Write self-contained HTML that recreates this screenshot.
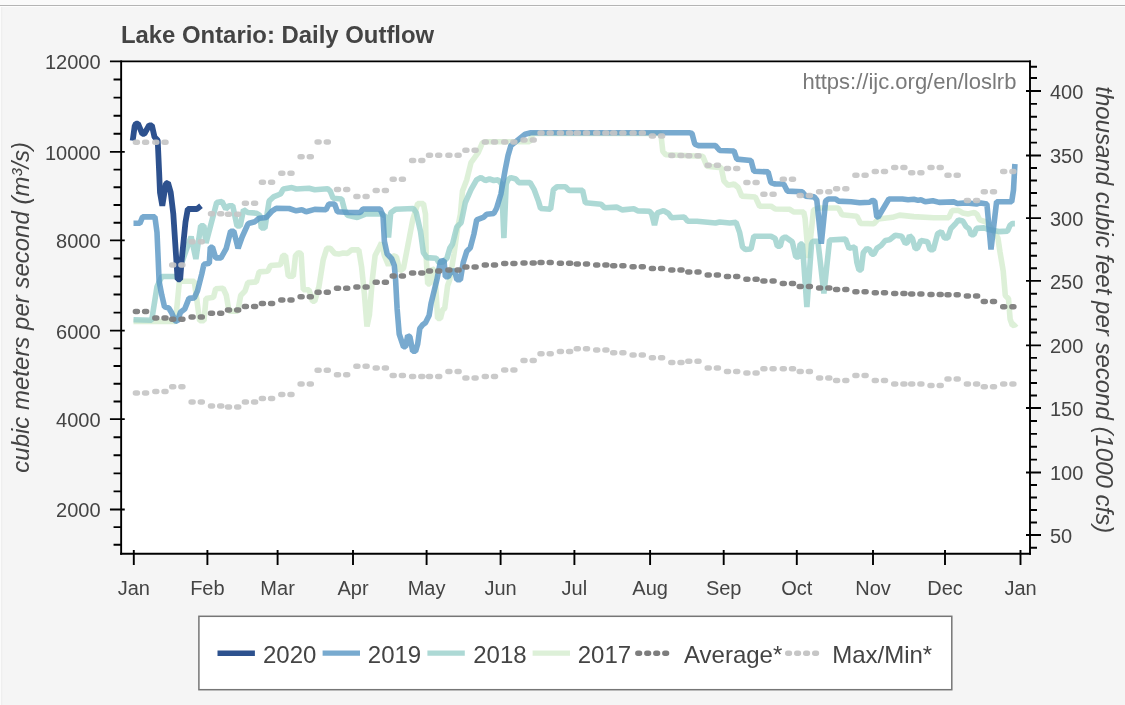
<!DOCTYPE html>
<html lang="en"><head><meta charset="utf-8"><title>Lake Ontario: Daily Outflow</title>
<style>html,body{margin:0;padding:0;background:#f5f5f5;}body{width:1125px;height:705px;overflow:hidden;}svg{display:block;}text{font-family:'Liberation Sans', sans-serif;}</style></head><body>
<svg width="1125" height="705" viewBox="0 0 1125 705">
<rect x="0" y="0" width="1125" height="705" fill="#f5f5f5"/>
<rect x="0" y="0" width="1125" height="5" fill="#fafafa"/>
<rect x="0" y="5" width="1125" height="1" fill="#b4b4b4"/>
<rect x="0" y="6" width="1125" height="1" fill="#fdfdfd"/>
<rect x="0" y="7" width="1" height="698" fill="#fbfbfb"/>
<rect x="1" y="7" width="1" height="698" fill="#efefef"/>
<rect x="2" y="7" width="1" height="698" fill="#f3f3f3"/>
<rect x="121.15" y="61.40" width="908.85" height="492.35" fill="#ffffff"/>
<text x="120.9" y="43.1" font-size="23.9" font-weight="bold" fill="#444444">Lake Ontario: Daily Outflow</text>
<text x="1016.4" y="88.7" font-size="22" text-anchor="end" fill="#7a7a7a">https://ijc.org/en/loslrb</text>
<defs><clipPath id="plotclip"><rect x="121.15" y="61.40" width="908.85" height="492.35"/></clipPath></defs>
<g clip-path="url(#plotclip)" fill="none" stroke-linejoin="bevel" stroke-linecap="butt">
<path d="M133.5 321.5 L175.5 321.5 L179.4 281.3 L194.3 281.3 L199.7 320.8 L204.0 320.8 L206.0 298.4 L213.5 297.3 L215.7 288.8 L223.1 288.3 L226.3 295.2 L229.0 311.2 L237.8 311.2 L240.7 295.4 L245.0 291.1 L247.8 282.6 L256.3 281.9 L259.2 271.9 L267.7 271.2 L270.6 265.5 L280.5 264.8 L282.7 255.6 L285.5 255.6 L288.3 276.2 L293.3 276.2 L295.5 255.6 L298.3 252.7 L301.1 253.4 L303.3 289.7 L309.0 289.7 L312.5 301.1 L314.7 301.1 L318.9 286.9 L323.2 259.8 L326.8 248.4 L330.3 248.4 L334.6 253.4 L338.8 254.1 L343.1 253.0 L347.4 253.4 L351.6 249.9 L358.8 249.9 L361.6 266.9 L364.4 294.0 L367.0 326.5 L369.4 315.0 L372.3 279.7 L375.1 255.6 L378.7 248.4 L381.5 242.8 L384.4 255.6 L388.5 265.4 L392.8 255.5 L396.4 256.9 L399.9 271.1 L403.5 268.3 L412.7 219.9 L417.7 203.6 L423.4 203.6 L425.5 214.2 L426.2 256.9 L427.7 283.9 L429.8 283.9 L431.9 268.3 L434.8 271.1 L436.2 294.2 L437.6 318.4 L440.5 318.4 L442.6 309.9 L444.7 308.4 L447.6 285.7 L449.7 279.7 L454.0 254.1 L457.5 228.4 L460.4 214.2 L462.5 191.1 L466.8 179.7 L471.0 162.7 L478.2 152.7 L482.4 142.8 L485.3 141.8 L529.4 141.8 L533.0 133.5 L660.8 133.5 L662.8 151.2 L665.7 154.8 L702.7 156.2 L706.9 166.2 L721.2 167.6 L724.0 181.1 L728.3 185.4 L734.0 184.0 L738.2 187.5 L741.8 196.1 L755.3 197.0 L759.6 206.2 L771.0 206.2 L775.2 209.0 L789.4 209.2 L793.7 212.0 L803.7 212.0 L805.1 218.4 L808.5 258.0 L813.5 210.0 L818.5 208.0 L838.4 208.0 L842.0 214.7 L856.9 216.2 L860.5 223.4 L874.0 223.7 L878.2 219.0 L892.5 217.3 L899.6 215.1 L913.8 216.6 L933.9 217.7 L948.8 217.7 L952.0 210.6 L958.4 210.3 L962.7 212.9 L968.0 214.0 L974.4 212.4 L977.1 214.5 L979.7 219.9 L986.1 222.0 L993.0 230.0 L997.9 238.0 L1000.0 252.0 L1003.2 271.0 L1005.3 295.5 L1008.5 298.7 L1010.1 319.0 L1012.3 325.4 L1014.9 325.0 L1016.3 323.5" stroke="#d4ecce" stroke-opacity="0.80" stroke-width="5.6"/>
<path d="M133.5 319.7 L151.7 320.3 L157.0 286.7 L161.8 276.5 L177.0 276.5 L188.0 245.0 L191.1 236.6 L195.9 259.0 L200.7 225.9 L203.9 225.9 L206.0 243.0 L216.7 202.5 L222.0 201.4 L225.8 208.9 L229.0 205.7 L232.7 205.7 L237.0 225.9 L240.2 226.0 L243.5 209.7 L247.8 212.5 L256.3 213.2 L259.9 215.3 L261.3 228.0 L264.9 228.0 L269.1 201.1 L273.4 196.9 L280.5 194.0 L283.4 189.0 L291.9 187.6 L296.2 189.0 L309.0 188.3 L314.7 189.7 L327.5 188.7 L330.3 191.2 L333.1 198.3 L341.7 199.0 L344.5 209.7 L347.4 215.3 L357.3 217.5 L365.9 213.9 L381.5 213.9 L385.8 216.8 L388.5 237.5 L390.7 212.8 L395.6 209.2 L413.4 208.5 L416.3 212.8 L420.5 231.3 L423.4 252.6 L426.9 257.6 L436.2 258.3 L439.0 262.6 L443.0 262.0 L446.9 258.3 L449.7 248.4 L452.5 244.1 L456.8 227.0 L461.1 222.8 L465.3 202.5 L471.0 189.7 L476.7 179.7 L481.0 177.6 L485.3 180.5 L489.5 179.0 L493.8 180.5 L498.1 179.7 L501.6 184.0 L503.9 238.2 L506.2 184.0 L508.0 179.7 L510.9 177.6 L515.8 179.0 L518.7 182.6 L530.0 182.5 L534.2 189.7 L538.5 201.4 L540.6 208.5 L550.6 209.2 L553.4 189.7 L557.0 186.8 L565.5 186.8 L569.1 190.4 L582.6 190.4 L585.4 202.8 L601.1 204.2 L604.6 207.8 L616.7 207.1 L622.4 209.9 L633.8 208.8 L638.1 210.9 L649.4 211.3 L651.6 213.5 L654.5 225.0 L657.3 212.8 L663.6 210.6 L668.5 213.5 L671.4 217.7 L684.2 217.0 L687.7 221.3 L697.0 221.3 L715.5 223.0 L719.7 222.0 L729.7 223.0 L736.1 222.4 L739.7 232.7 L742.5 246.9 L745.3 249.5 L751.0 249.0 L753.9 236.2 L771.0 236.2 L775.2 238.4 L777.4 246.2 L780.2 246.2 L782.3 238.4 L785.2 236.9 L792.3 241.9 L795.8 256.9 L798.7 256.9 L800.1 244.1 L802.4 244.1 L806.9 307.0 L811.5 244.0 L812.9 241.2 L817.9 241.2 L823.9 293.5 L829.6 240.0 L845.5 239.1 L849.1 248.4 L854.8 246.9 L856.9 262.6 L859.0 270.0 L861.2 270.0 L863.3 252.6 L866.9 248.4 L869.7 249.8 L871.8 254.1 L874.0 254.1 L876.8 248.4 L881.1 245.5 L885.3 240.5 L889.6 239.8 L895.3 235.3 L901.7 236.3 L905.3 243.4 L907.4 242.7 L909.5 235.6 L912.4 238.4 L915.2 248.4 L917.4 248.4 L920.9 240.5 L927.5 241.7 L930.1 249.7 L933.3 249.7 L937.6 233.7 L941.3 231.6 L944.5 238.0 L947.7 238.0 L950.9 228.4 L955.2 224.1 L958.4 219.9 L962.7 220.9 L965.9 226.3 L969.1 228.9 L971.2 234.8 L973.9 234.8 L976.5 228.4 L984.0 227.9 L988.3 229.5 L998.9 231.6 L1007.5 231.1 L1010.1 225.2 L1012.3 223.6 L1014.9 223.6" stroke="#98d0cb" stroke-opacity="0.80" stroke-width="5.6"/>
<path d="M133.5 223.3 L139.9 223.3 L142.6 216.9 L154.9 216.9 L157.0 232.3 L158.0 255.0 L159.1 281.3 L161.8 295.2 L164.5 306.9 L168.7 308.0 L171.9 313.3 L175.1 320.8 L177.3 321.3 L180.5 312.3 L184.7 309.1 L189.0 298.4 L194.3 297.9 L197.5 290.9 L201.8 273.9 L203.9 264.3 L209.3 263.2 L210.3 247.3 L212.5 247.3 L215.7 257.9 L221.0 257.9 L226.3 248.3 L230.6 231.3 L233.8 231.3 L238.1 248.3 L242.1 237.0 L247.8 224.3 L249.2 223.2 L254.9 221.7 L259.2 218.2 L266.3 217.5 L272.0 211.1 L276.3 208.2 L289.1 208.5 L296.2 210.8 L301.9 209.7 L306.1 211.8 L314.7 209.4 L326.0 209.7 L328.9 204.0 L334.6 204.0 L337.4 211.8 L348.8 212.5 L360.2 212.5 L363.0 209.0 L380.1 209.0 L383.0 215.3 L384.4 241.3 L387.2 254.1 L391.5 258.4 L394.3 265.5 L395.6 280.0 L397.1 308.4 L399.2 334.0 L403.5 346.8 L405.6 346.8 L407.7 335.5 L409.9 336.9 L412.7 351.1 L415.6 351.1 L417.7 344.0 L419.8 328.4 L422.7 324.8 L425.5 322.7 L429.1 315.6 L431.2 302.8 L436.9 279.7 L440.5 261.2 L444.0 260.5 L445.4 276.8 L448.3 276.8 L451.1 271.1 L454.7 271.1 L456.8 279.7 L460.4 279.7 L463.2 262.6 L466.8 251.2 L470.3 247.7 L473.9 234.1 L476.7 219.9 L483.8 217.1 L486.7 214.2 L493.8 213.5 L496.6 208.2 L500.9 194.0 L505.2 169.8 L508.0 155.6 L510.9 145.6 L518.0 139.9 L525.1 134.2 L530.8 132.8 L689.9 132.8 L692.0 133.5 L694.8 144.1 L698.4 145.6 L715.5 145.6 L719.7 150.5 L734.0 151.0 L736.8 159.1 L751.0 160.5 L753.9 171.2 L768.1 171.9 L770.9 182.5 L775.2 184.0 L783.7 184.0 L787.3 191.1 L802.2 191.8 L805.8 196.1 L814.2 196.9 L816.8 200.0 L821.3 243.6 L825.6 201.1 L828.4 199.0 L835.6 199.0 L838.4 201.1 L851.2 201.8 L859.7 202.8 L869.7 202.3 L872.5 200.4 L874.7 201.1 L876.8 216.8 L878.2 217.0 L888.9 199.0 L902.4 199.0 L908.1 199.7 L913.8 199.3 L918.1 200.4 L920.9 199.7 L925.2 201.8 L932.8 200.8 L939.2 202.4 L954.1 201.9 L957.3 203.5 L966.9 202.9 L976.5 204.0 L980.8 202.9 L986.9 204.0 L991.0 249.5 L996.6 201.7 L1011.7 201.7 L1013.5 190.0 L1014.9 164.0" stroke="#5695c3" stroke-opacity="0.80" stroke-width="5.6"/>
<path d="M132.7 140.6 L134.7 126.0 L135.9 123.7 L138.0 123.7 L142.3 133.8 L144.4 133.8 L149.2 125.3 L151.9 125.3 L154.5 137.0 L157.7 140.2 L159.1 171.1 L160.0 192.4 L162.3 205.8 L165.9 183.6 L168.0 182.7 L170.7 192.4 L173.3 213.8 L177.6 279.3 L180.2 279.3 L181.5 262.0 L185.5 222.0 L187.8 209.0 L197.0 209.0 L201.0 205.8" stroke="#264b8a" stroke-opacity="0.97" stroke-width="5.8"/>
</g>
<g clip-path="url(#plotclip)">
<path d="M135.4 142.3h2M144.6 142.3h2M154.8 142.3h2M164.0 142.3h2M171.7 265.1h2M180.9 265.1h2M191.1 241.7h2M200.3 241.7h2M210.5 213.7h2M219.7 213.7h2M227.5 214.3h2M236.7 214.3h2M244.4 203.2h2M253.6 203.2h2M261.4 182.2h2M270.6 182.2h2M280.8 173.3h2M290.0 173.3h2M300.1 156.8h2M309.3 156.8h2M317.1 142.1h2M326.3 142.1h2M336.5 189.5h2M345.7 189.5h2M355.9 196.6h2M365.1 196.6h2M375.2 190.5h2M384.4 190.5h2M392.2 179.2h2M401.4 179.2h2M411.6 160.5h2M420.8 160.5h2M428.5 155.3h2M437.7 155.3h2M447.9 155.3h2M457.1 155.3h2M464.9 150.2h2M474.1 150.2h2M484.3 142.0h2M493.5 142.0h2M503.7 142.0h2M512.9 142.0h2M523.0 139.9h2M532.2 139.9h2M540.0 133.0h2M549.2 133.0h2M559.4 133.0h2M568.6 133.0h2M576.3 133.0h2M585.5 133.0h2M595.7 133.0h2M604.9 133.0h2M612.7 133.0h2M621.9 133.0h2M632.1 133.0h2M641.3 133.0h2M651.4 135.9h2M660.6 135.9h2M670.8 155.5h2M680.0 155.5h2M687.8 155.8h2M697.0 155.8h2M707.2 165.2h2M716.4 165.2h2M726.5 168.6h2M735.7 168.6h2M745.9 182.5h2M755.1 182.5h2M762.9 194.3h2M772.1 194.3h2M782.3 179.3h2M791.5 179.3h2M799.2 195.5h2M808.4 195.5h2M818.6 191.7h2M827.8 191.7h2M835.6 188.7h2M844.8 188.7h2M854.9 175.2h2M864.1 175.2h2M874.3 171.5h2M883.5 171.5h2M893.7 167.4h2M902.9 167.4h2M910.7 172.8h2M919.9 172.8h2M930.0 167.4h2M939.2 167.4h2M947.0 175.2h2M956.2 175.2h2M966.4 200.6h2M975.6 200.6h2M983.3 191.7h2M992.5 191.7h2M1002.7 171.5h2M1011.9 171.5h2" fill="none" stroke="#c6c6c6" stroke-opacity="0.92" stroke-width="5.5" stroke-linecap="round"/>
<path d="M135.4 393.1h2M144.6 393.1h2M154.8 391.6h2M164.0 391.6h2M171.7 386.7h2M180.9 386.7h2M191.1 401.9h2M200.3 401.9h2M210.5 405.9h2M219.7 405.9h2M227.5 406.9h2M236.7 406.9h2M244.4 401.9h2M253.6 401.9h2M261.4 398.4h2M270.6 398.4h2M280.8 394.4h2M290.0 394.4h2M300.1 384.0h2M309.3 384.0h2M317.1 370.2h2M326.3 370.2h2M336.5 374.8h2M345.7 374.8h2M355.9 366.2h2M365.1 366.2h2M375.2 368.1h2M384.4 368.1h2M392.2 375.4h2M401.4 375.4h2M411.6 376.6h2M420.8 376.6h2M428.5 376.4h2M437.7 376.4h2M447.9 371.5h2M457.1 371.5h2M464.9 377.9h2M474.1 377.9h2M484.3 376.4h2M493.5 376.4h2M503.7 370.0h2M512.9 370.0h2M523.0 360.4h2M532.2 360.4h2M540.0 353.7h2M549.2 353.7h2M559.4 351.5h2M568.6 351.5h2M576.3 348.7h2M585.5 348.7h2M595.7 350.1h2M604.9 350.1h2M612.7 352.7h2M621.9 352.7h2M632.1 355.1h2M641.3 355.1h2M651.4 357.7h2M660.6 357.7h2M670.8 362.6h2M680.0 362.6h2M687.8 361.2h2M697.0 361.2h2M707.2 368.0h2M716.4 368.0h2M726.5 371.6h2M735.7 371.6h2M745.9 372.9h2M755.1 372.9h2M762.9 368.7h2M772.1 368.7h2M782.3 368.7h2M791.5 368.7h2M799.2 371.5h2M808.4 371.5h2M818.6 377.9h2M827.8 377.9h2M835.6 380.5h2M844.8 380.5h2M854.9 375.5h2M864.1 375.5h2M874.3 380.5h2M883.5 380.5h2M893.7 384.0h2M902.9 384.0h2M910.7 384.0h2M919.9 384.0h2M930.0 385.4h2M939.2 385.4h2M947.0 379.1h2M956.2 379.1h2M966.4 384.1h2M975.6 384.1h2M983.3 386.7h2M992.5 386.7h2M1002.7 384.1h2M1011.9 384.1h2" fill="none" stroke="#c6c6c6" stroke-opacity="0.92" stroke-width="5.5" stroke-linecap="round"/>
<path d="M135.4 311.4h2M144.6 311.4h2M154.8 317.9h2M164.0 317.9h2M171.7 319.2h2M180.9 319.2h2M191.1 316.9h2M200.3 316.9h2M210.5 313.3h2M219.7 313.3h2M227.5 310.1h2M236.7 310.1h2M244.4 306.5h2M253.6 306.5h2M261.4 303.5h2M270.6 303.5h2M280.8 300.1h2M290.0 300.1h2M300.1 296.8h2M309.3 296.8h2M317.1 292.3h2M326.3 292.3h2M336.5 288.3h2M345.7 288.3h2M355.9 286.9h2M365.1 286.9h2M375.2 282.2h2M384.4 282.2h2M392.2 276.1h2M401.4 276.1h2M411.6 273.0h2M420.8 273.0h2M428.5 271.1h2M437.7 271.1h2M447.9 270.0h2M457.1 270.0h2M464.9 267.1h2M474.1 267.1h2M484.3 265.0h2M493.5 265.0h2M503.7 263.6h2M512.9 263.6h2M523.0 263.1h2M532.2 263.1h2M540.0 262.5h2M549.2 262.5h2M559.4 263.3h2M568.6 263.3h2M576.3 264.0h2M585.5 264.0h2M595.7 265.0h2M604.9 265.0h2M612.7 265.8h2M621.9 265.8h2M632.1 266.8h2M641.3 266.8h2M651.4 268.5h2M660.6 268.5h2M670.8 269.9h2M680.0 269.9h2M687.8 272.1h2M697.0 272.1h2M707.2 274.9h2M716.4 274.9h2M726.5 276.5h2M735.7 276.5h2M745.9 279.3h2M755.1 279.3h2M762.9 281.0h2M772.1 281.0h2M782.3 283.5h2M791.5 283.5h2M799.2 286.4h2M808.4 286.4h2M818.6 288.1h2M827.8 288.1h2M835.6 289.5h2M844.8 289.5h2M854.9 291.8h2M864.1 291.8h2M874.3 292.8h2M883.5 292.8h2M893.7 293.6h2M902.9 293.6h2M910.7 293.9h2M919.9 293.9h2M930.0 294.5h2M939.2 294.5h2M947.0 294.7h2M956.2 294.7h2M966.4 295.9h2M975.6 295.9h2M983.3 301.4h2M992.5 301.4h2M1002.7 306.7h2M1011.9 306.7h2" fill="none" stroke="#7d7d7d" stroke-opacity="0.95" stroke-width="5.5" stroke-linecap="round"/>
</g>
<path d="M109.95 61.40H1031.00" stroke="#000000" stroke-width="1.9" fill="none"/>
<path d="M121.15 60.40V554.75" stroke="#000000" stroke-width="1.9" fill="none"/>
<path d="M120.15 553.75H1031.00" stroke="#000000" stroke-width="1.9" fill="none"/>
<path d="M1030.00 60.40V554.75" stroke="#000000" stroke-width="1.9" fill="none"/>
<path d="M113.55 544.80H121.15M113.55 527.12H121.15M109.95 509.44H124.75M113.55 491.38H121.15M113.55 473.33H121.15M113.55 455.27H121.15M113.55 437.22H121.15M109.95 419.16H124.75M113.55 401.45H121.15M113.55 383.75H121.15M113.55 366.04H121.15M113.55 348.34H121.15M109.95 330.63H124.75M113.55 312.59H121.15M113.55 294.55H121.15M113.55 276.50H121.15M113.55 258.46H121.15M109.95 240.42H124.75M113.55 222.71H121.15M113.55 205.00H121.15M113.55 187.29H121.15M113.55 169.58H121.15M109.95 151.87H124.75M113.55 133.78H121.15M113.55 115.68H121.15M113.55 97.59H121.15M113.55 79.49H121.15" stroke="#000000" stroke-width="1.9" fill="none"/>
<text x="100.6" y="517.3" font-size="20" text-anchor="end" fill="#444444">2000</text>
<text x="100.6" y="427.1" font-size="20" text-anchor="end" fill="#444444">4000</text>
<text x="100.6" y="338.5" font-size="20" text-anchor="end" fill="#444444">6000</text>
<text x="100.6" y="248.3" font-size="20" text-anchor="end" fill="#444444">8000</text>
<text x="100.6" y="159.8" font-size="20" text-anchor="end" fill="#444444">10000</text>
<text x="100.6" y="69.3" font-size="20" text-anchor="end" fill="#444444">12000</text>
<path d="M1030.00 547.70H1037.00M1026.00 535.00H1041.00M1030.00 522.51H1037.00M1030.00 510.02H1037.00M1030.00 497.53H1037.00M1030.00 485.04H1037.00M1026.00 472.55H1041.00M1030.00 459.64H1037.00M1030.00 446.74H1037.00M1030.00 433.83H1037.00M1030.00 420.93H1037.00M1026.00 408.02H1041.00M1030.00 395.49H1037.00M1030.00 382.96H1037.00M1030.00 370.42H1037.00M1030.00 357.89H1037.00M1026.00 345.36H1041.00M1030.00 332.46H1037.00M1030.00 319.56H1037.00M1030.00 306.67H1037.00M1030.00 293.77H1037.00M1026.00 280.87H1041.00M1030.00 268.32H1037.00M1030.00 255.76H1037.00M1030.00 243.21H1037.00M1030.00 230.65H1037.00M1026.00 218.10H1041.00M1030.00 205.58H1037.00M1030.00 193.06H1037.00M1030.00 180.54H1037.00M1030.00 168.02H1037.00M1026.00 155.50H1041.00M1030.00 142.59H1037.00M1030.00 129.67H1037.00M1030.00 116.76H1037.00M1030.00 103.84H1037.00M1026.00 90.93H1041.00M1030.00 78.02H1037.00M1030.00 66.80H1037.00" stroke="#000000" stroke-width="1.9" fill="none"/>
<text x="1050" y="542.8" font-size="20" text-anchor="start" fill="#444444">50</text>
<text x="1050" y="480.4" font-size="20" text-anchor="start" fill="#444444">100</text>
<text x="1050" y="415.8" font-size="20" text-anchor="start" fill="#444444">150</text>
<text x="1050" y="353.2" font-size="20" text-anchor="start" fill="#444444">200</text>
<text x="1050" y="288.7" font-size="20" text-anchor="start" fill="#444444">250</text>
<text x="1050" y="225.9" font-size="20" text-anchor="start" fill="#444444">300</text>
<text x="1050" y="163.3" font-size="20" text-anchor="start" fill="#444444">350</text>
<text x="1050" y="98.7" font-size="20" text-anchor="start" fill="#444444">400</text>
<path d="M133.80 550.05V564.95M207.40 550.05V564.95M277.60 550.05V564.95M353.00 550.05V564.95M426.60 550.05V564.95M500.60 550.05V564.95M574.40 550.05V564.95M650.10 550.05V564.95M723.70 550.05V564.95M796.80 550.05V564.95M873.00 550.05V564.95M945.00 550.05V564.95M1020.50 550.05V564.95" stroke="#000000" stroke-width="1.9" fill="none"/>
<text x="133.8" y="594.7" font-size="20" text-anchor="middle" fill="#444444">Jan</text>
<text x="207.4" y="594.7" font-size="20" text-anchor="middle" fill="#444444">Feb</text>
<text x="277.6" y="594.7" font-size="20" text-anchor="middle" fill="#444444">Mar</text>
<text x="353.0" y="594.7" font-size="20" text-anchor="middle" fill="#444444">Apr</text>
<text x="426.6" y="594.7" font-size="20" text-anchor="middle" fill="#444444">May</text>
<text x="500.6" y="594.7" font-size="20" text-anchor="middle" fill="#444444">Jun</text>
<text x="574.4" y="594.7" font-size="20" text-anchor="middle" fill="#444444">Jul</text>
<text x="650.1" y="594.7" font-size="20" text-anchor="middle" fill="#444444">Aug</text>
<text x="723.7" y="594.7" font-size="20" text-anchor="middle" fill="#444444">Sep</text>
<text x="796.8" y="594.7" font-size="20" text-anchor="middle" fill="#444444">Oct</text>
<text x="873.0" y="594.7" font-size="20" text-anchor="middle" fill="#444444">Nov</text>
<text x="945.0" y="594.7" font-size="20" text-anchor="middle" fill="#444444">Dec</text>
<text x="1020.5" y="594.7" font-size="20" text-anchor="middle" fill="#444444">Jan</text>
<text transform="translate(29.3 307.3) rotate(-90)" font-size="24" font-style="italic" text-anchor="middle" fill="#444444">cubic meters per second (m³/s)</text>
<text transform="translate(1096.0 309.7) rotate(90)" font-size="24" font-style="italic" text-anchor="middle" fill="#444444">thousand cubic feet per second (1000 cfs)</text>
<rect x="198.9" y="616.3" width="752.9" height="73.4" fill="#ffffff" stroke="#767676" stroke-width="1.5"/>
<path d="M217.5 653.2h37.4" stroke="#264b8a" stroke-opacity="0.97" stroke-width="5.4" fill="none"/>
<text x="263.0" y="663.0" font-size="24" fill="#444444">2020</text>
<path d="M322.6 653.2h37.4" stroke="#5695c3" stroke-opacity="0.80" stroke-width="5.2" fill="none"/>
<text x="367.8" y="663.0" font-size="24" fill="#444444">2019</text>
<path d="M427.4 653.2h37.4" stroke="#98d0cb" stroke-opacity="0.80" stroke-width="5.2" fill="none"/>
<text x="473.2" y="663.0" font-size="24" fill="#444444">2018</text>
<path d="M532.6 653.2h37.4" stroke="#d4ecce" stroke-opacity="0.80" stroke-width="5.2" fill="none"/>
<text x="577.7" y="663.0" font-size="24" fill="#444444">2017</text>
<path d="M637.8 653.2h1.8M646.8 653.2h1.8M655.8 653.2h1.8M664.8 653.2h1.8" stroke="#7d7d7d" stroke-width="5.4" stroke-linecap="round" fill="none"/>
<text x="684.0" y="663.0" font-size="24" fill="#444444">Average*</text>
<path d="M787.7 653.2h1.8M796.7 653.2h1.8M805.7 653.2h1.8M814.7 653.2h1.8" stroke="#c6c6c6" stroke-width="5.4" stroke-linecap="round" fill="none"/>
<text x="832.2" y="663.0" font-size="24" fill="#444444">Max/Min*</text>
</svg></body></html>
